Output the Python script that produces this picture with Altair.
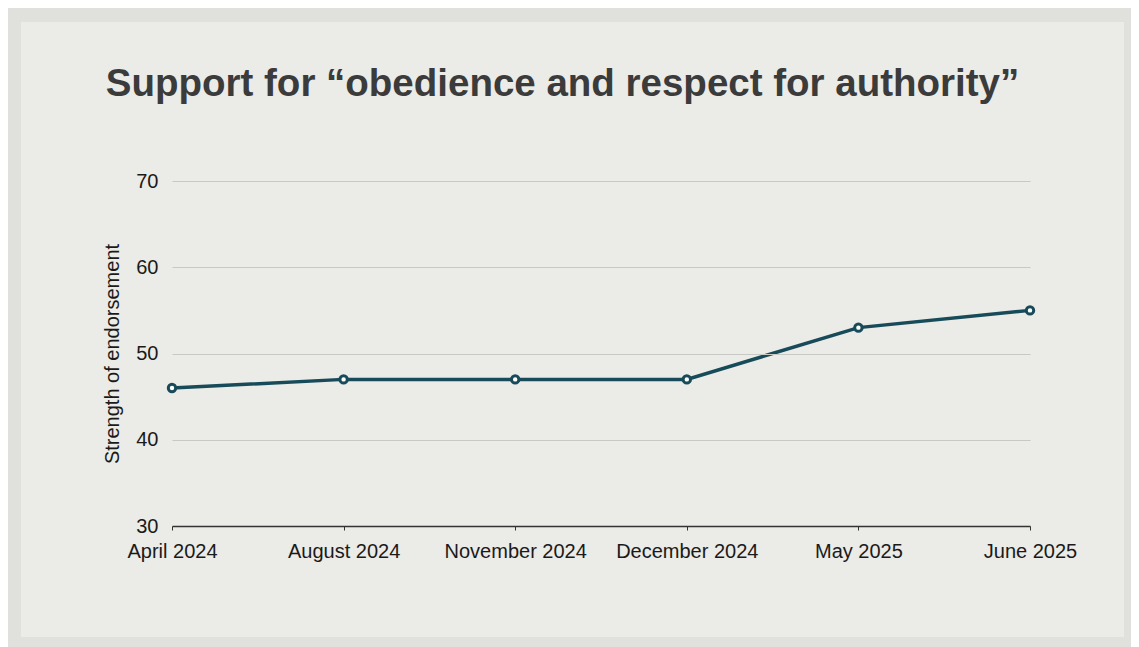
import altair as alt
import pandas as pd

months = ["April 2024", "August 2024", "November 2024", "December 2024", "May 2025", "June 2025"]
values = [46, 47, 47, 47, 53, 55]
y_ticks = [30, 40, 50, 60, 70]

TEAL = "#174b59"
FONT = "Liberation Sans"

df = pd.DataFrame({"month": months, "value": values})

W, H = 858, 345

# decorative light panel behind the chart (frame of the card)
panel = alt.Chart(pd.DataFrame({"k": [0]})).mark_rect(color="#ebebe7").encode(
    x=alt.value(-151), x2=alt.value(952), y=alt.value(-159), y2=alt.value(456)
)

line = alt.Chart(df).mark_line(
    color=TEAL,
    strokeWidth=3.5,
    point=alt.OverlayMarkDef(filled=True, fill="white", stroke=TEAL, strokeWidth=3, size=55, opacity=1),
).encode(
    x=alt.X(
        "month:N",
        sort=months,
        scale=alt.Scale(padding=0),
        axis=alt.Axis(
            title=None, labelAngle=0, labelFont=FONT, labelFontSize=20, labelColor="#1a1a1a",
            labelPadding=11, tickSize=4, tickColor="#333333", domainColor="#333333",
            domainWidth=1.5, grid=False, zindex=1,
        ),
    ),
    y=alt.Y(
        "value:Q",
        scale=alt.Scale(domain=[30, 70], nice=False, zero=False),
        axis=alt.Axis(
            values=y_ticks, title="Strength of endorsement", titleFont=FONT, titleFontSize=20,
            titleFontWeight="normal", titleColor="#1a1a1a", titlePadding=13,
            labelFont=FONT, labelFontSize=20, labelColor="#1a1a1a", labelPadding=14,
            domain=False, ticks=False, grid=True, gridColor="#c8c8c4", gridWidth=1.2, zindex=1,
        ),
    ),
)

chart = alt.layer(panel, line).properties(
    width=W,
    height=H,
    background="#e0e0dc",
    padding={"left": 13, "top": 14, "right": 7, "bottom": 14},
    title=alt.TitleParams(
        text="Support for “obedience and respect for authority”",
        font=FONT, fontSize=38.5, fontWeight="bold", color="#3b3b3b",
        anchor="middle", frame="bounds", offset=-82, dx=-10,
    ),
).configure_view(stroke=None)

chart.save("out.html", embed_options={"renderer": "svg", "actions": False})
